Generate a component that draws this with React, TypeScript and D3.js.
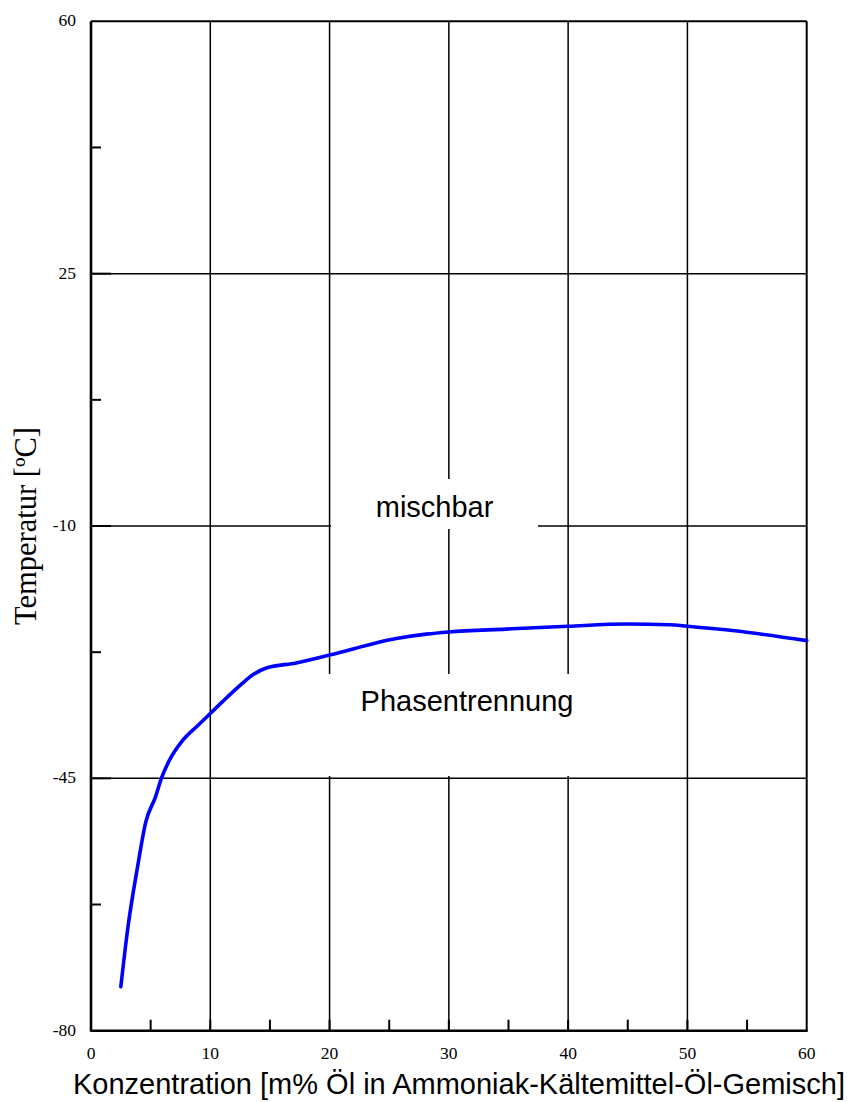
import React from "react";
import * as d3 from "d3";

const concentration = [2.5, 3.1, 3.9, 4.6, 5.4, 5.9, 6.6, 7.6, 9.0, 10, 12.5, 13.6, 14.7, 17.2, 20, 25.6, 28.1, 30, 34.8, 40, 44.9, 48.5, 50, 53.8, 60];
const temperature = [-73.9, -65.6, -57.3, -51.0, -47.6, -45.0, -42.4, -39.9, -37.6, -36.0, -32.1, -30.6, -29.7, -29.0, -27.9, -25.6, -25.0, -24.7, -24.3, -23.9, -23.6, -23.7, -23.9, -24.5, -25.9];

const xTicks = [0, 10, 20, 30, 40, 50, 60];
const xMinor = [5, 15, 25, 35, 45, 55];
const yTicks = [60, 25, -10, -45, -80];
const yMinor = [42.5, 7.5, -27.5, -62.5];

const xTitle = "Konzentration [m% Öl in Ammoniak-Kältemittel-Öl-Gemisch]";
const yTitle = "Temperatur [ºC]";
const upperLabel = "mischbar";
const lowerLabel = "Phasentrennung";

const width = 857;
const height = 1102;
const margin = { top: 21.3, right: 50.3, bottom: 71.3, left: 91 };

const serif = "'Liberation Serif', 'Times New Roman', serif";
const sans = "'Liberation Sans', Arial, sans-serif";

export default function App() {
  const x = d3.scaleLinear().domain([0, 60]).range([margin.left, width - margin.right]);
  const y = d3.scaleLinear().domain([-80, 60]).range([height - margin.bottom, margin.top]);

  const pts = concentration.map((c, i) => [c, temperature[i]] as [number, number]);
  const line = d3.line<[number, number]>()
    .x(d => x(d[0]))
    .y(d => y(d[1]))
    .curve(d3.curveMonotoneX);

  const x0 = x(0), x1 = x(60), y0 = y(-80), y1 = y(60);

  return (
    <svg width={width} height={height} style={{ position: "absolute", left: 0, top: 0, background: "#fff" }}>
      {/* grid */}
      <g stroke="#000" strokeWidth={1.5}>
        {xTicks.slice(1, -1).map(t => (
          <line key={"gx" + t} x1={x(t)} x2={x(t)} y1={y1} y2={y0} />
        ))}
        {yTicks.slice(1, -1).map(t => (
          <line key={"gy" + t} x1={x0} x2={x1} y1={y(t)} y2={y(t)} />
        ))}
      </g>

      {/* label backgrounds cut the grid */}
      <rect x={331} y={479} width={207} height={50} fill="#fff" />
      <rect x={320} y={674} width={280} height={102} fill="#fff" />

      {/* minor and major ticks */}
      <g stroke="#000" strokeWidth={2}>
        {yMinor.map(t => (
          <line key={"my" + t} x1={x0} x2={x0 + 10} y1={y(t)} y2={y(t)} />
        ))}
        {xMinor.map(t => (
          <line key={"mx" + t} x1={x(t)} x2={x(t)} y1={y0} y2={y0 - 11} />
        ))}
        {yTicks.slice(1, -1).map(t => (
          <line key={"My" + t} x1={x0} x2={x0 + 20} y1={y(t)} y2={y(t)} />
        ))}
        {xTicks.slice(1, -1).map(t => (
          <line key={"Mx" + t} x1={x(t)} x2={x(t)} y1={y0} y2={y0 - 11} />
        ))}
      </g>

      {/* frame */}
      <line x1={x0} x2={x1} y1={y1} y2={y1} stroke="#000" strokeWidth={2} />
      <line x1={x1} x2={x1} y1={y1} y2={y0} stroke="#000" strokeWidth={2} />
      <line x1={x0} x2={x0} y1={y1} y2={y0 + 1} stroke="#000" strokeWidth={2.6} />
      <line x1={x0} x2={x1 + 1} y1={y0} y2={y0} stroke="#000" strokeWidth={2.6} />

      {/* curve */}
      <path d={line(pts) || ""} fill="none" stroke="#0000ff" strokeWidth={3.6} strokeLinejoin="round" strokeLinecap="round" />

      {/* tick labels */}
      <g fontFamily={serif} fontSize={17.5} fill="#000">
        {yTicks.map(t => (
          <text key={"ly" + t} x={x0 - 15} y={y(t) + 5} textAnchor="end">{t}</text>
        ))}
        {xTicks.map(t => (
          <text key={"lx" + t} x={x(t)} y={1059} textAnchor="middle">{t}</text>
        ))}
      </g>

      {/* titles */}
      <text x={459} y={1094} textAnchor="middle" fontFamily={sans} fontSize={29} fill="#000">{xTitle}</text>
      <text transform={`translate(35.5, ${(y0 + y1) / 2}) rotate(-90)`} textAnchor="middle" fontFamily={serif} fontSize={30.5} fill="#000">{yTitle}</text>

      <text x={434.6} y={516.7} textAnchor="middle" fontFamily={sans} fontSize={29} fill="#000">{upperLabel}</text>
      <text x={467} y={710.7} textAnchor="middle" fontFamily={sans} fontSize={29} fill="#000">{lowerLabel}</text>
    </svg>
  );
}
